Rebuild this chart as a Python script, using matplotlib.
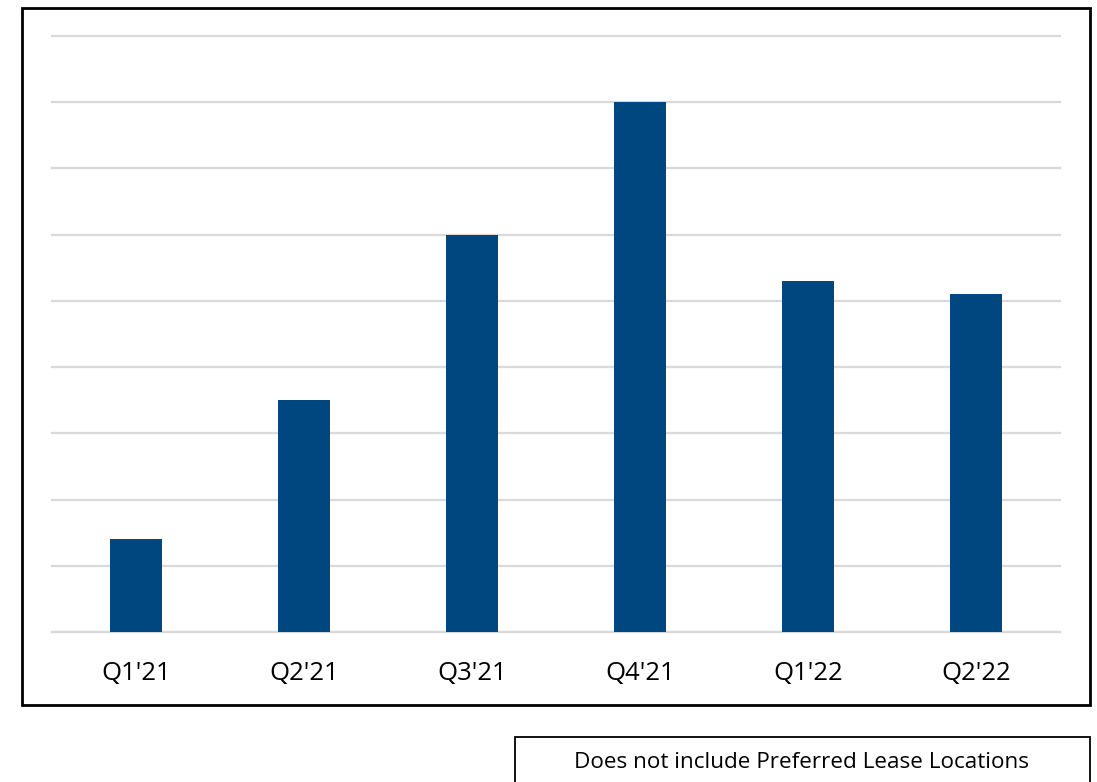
import matplotlib
matplotlib.use("Agg")
import matplotlib.pyplot as plt
from matplotlib.patches import Rectangle

categories = ["Q1'21", "Q2'21", "Q3'21", "Q4'21", "Q1'22", "Q2'22"]
values = [1.4, 3.5, 6.0, 8.0, 5.3, 5.1]
footnote = "Does not include Preferred Lease Locations"

W, H = 1097, 782
fig = plt.figure(figsize=(W / 100, H / 100), dpi=100)
plt.rcParams['font.family'] = ['Open Sans', 'DejaVu Sans']

ax = fig.add_axes([52 / W, 150 / H, 1008 / W, 596 / H])
x = range(len(categories))
ax.bar(x, values, width=0.31, color="#00467F", zorder=3)
ax.set_xlim(-0.5, len(categories) - 0.5)
ax.set_ylim(0, 9)
ax.set_yticks(range(0, 10))
ax.yaxis.grid(True, color="#D9D9D9", linewidth=1.6, zorder=0)
for gl in ax.get_ygridlines():
    gl.set_clip_on(False)
ax.set_yticklabels([])
ax.tick_params(axis='y', length=0)
ax.set_xticks(list(x))
ax.set_xticklabels(categories, fontsize=18.5, color="#000000")
ax.tick_params(axis='x', length=0, pad=21)
for s in ax.spines.values():
    s.set_visible(False)
ax.axhline(0, color="#D9D9D9", linewidth=1.6, zorder=2)

# outer frame
fig.patches.append(Rectangle((22 / W, (H - 705) / H), 1068 / W, 697 / H,
                             transform=fig.transFigure, fill=False,
                             edgecolor="black", linewidth=2))
# footnote box
fig.patches.append(Rectangle((515 / W, -10 / H), 575 / W, (H - 737 + 10) / H,
                             transform=fig.transFigure, fill=False,
                             edgecolor="black", linewidth=1.3))
fig.text(802 / W, (H - 762) / H, footnote, ha="center", va="center",
         fontsize=16.2, color="#000000")

fig.savefig("out.png", dpi=100)
